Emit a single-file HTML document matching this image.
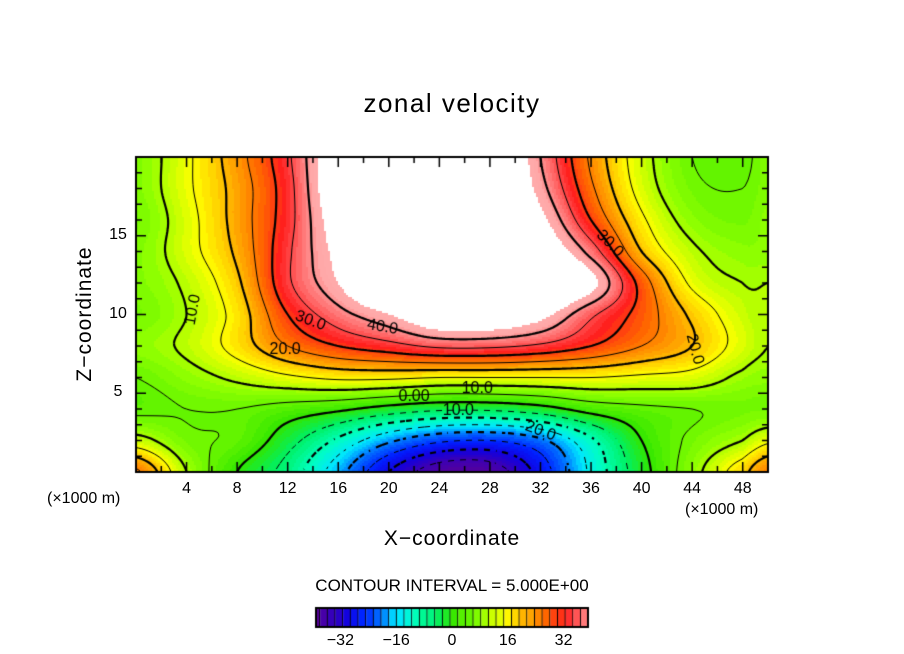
<!DOCTYPE html>
<html><head><meta charset="utf-8"><style>
body{margin:0;background:#fff;width:904px;height:654px;overflow:hidden;position:relative;font-family:"Liberation Sans",sans-serif}
.t{position:absolute;color:#000;white-space:nowrap}
canvas{position:absolute}
</style></head><body>
<div class="t" style="left:0;width:904px;text-align:center;top:88px;font-size:26px;letter-spacing:1.5px">zonal velocity</div>
<canvas id="c" width="904" height="654" style="left:0;top:0"></canvas>
<div id="lab"></div>
<div class="t" style="left:0;width:904px;text-align:center;top:527px;font-size:21px;letter-spacing:1px">X−coordinate</div>
<div class="t" style="top:302px;font-size:21px;letter-spacing:1px;transform:rotate(-90deg);width:200px;text-align:center;transform-origin:100px 12px;left:-15px">Z−coordinate</div>
<div class="t" style="left:47px;top:490px;font-size:16px">(×1000 m)</div>
<div class="t" style="left:685px;top:501px;font-size:16px">(×1000 m)</div>
<div class="t" style="left:0;width:904px;text-align:center;top:576px;font-size:17px">CONTOUR INTERVAL = 5.000E+00</div>
<script>
const xs=[0,4,8,12,16,20,24,28,32,36,40,44,48,50];
const zs=[20,18,16,14,12,10,8,6,4,2,0];
const r20=[7,14,23,34,50,55,55,55,40,24,12,5,4,7];
const r18=[7,14,22,33,50,55,55,55,42,26,13,6,5,7];
const r16=[6,13,22,33,48,55,55,55,46,30,16,8,6,8];
const r14=[7,13,21,34,46,55,55,55,50,38,20,11,8,8];
const r12=[7,11,19,34,44,55,55,55,54,46,28,14,10,10];
const r10=[6,10,17,30,38,44,50,50,46,36,28,19,12,10];
const r8=[8,11,17,25,30,33,36,36,34,30,25,20,13,10];
const r6=[5,8,11,14,16,16,15,15,15,15,14,13,9,8];
const r4=[4,5,5,3,1,-2,-4,-4,-2,2,4,5,6,6];
const r2=[12,6,4,-3,-11,-19,-24,-25,-21,-11,0,6,10,14];
const r0=[26,10,0,-7,-18,-30,-38,-38,-28,-14,-2,8,18,25];
const rows=[r20,r18,r16,r14,r12,r10,r8,r6,r4,r2,r0];
const xTicks=[4,8,12,16,20,24,28,32,36,40,44,48];
const zTicks=[5,10,15];
const cbTicks=[-32,-16,0,16,32];
const X0=136,X1=768,Y0=157,Y1=472,XMAX=50,ZMAX=20;
const sx=x=>X0+x/XMAX*(X1-X0), sz=z=>Y1-z/ZMAX*(Y1-Y0);
function cr(p0,p1,p2,p3,t){return p1+0.5*t*(p2-p0+t*(2*p0-5*p1+4*p2-p3+t*(3*(p1-p2)+p3-p0)));}
function rowAt(r,x){
  let i=0;while(i<xs.length-2&&x>xs[i+1])i++;
  const t=(x-xs[i])/(xs[i+1]-xs[i]);
  const p0=r[Math.max(0,i-1)],p1=r[i],p2=r[i+1],p3=r[Math.min(r.length-1,i+2)];
  return cr(p0,p1,p2,p3,t);
}
function field(x,z){
  let j=0;while(j<zs.length-2&&z<zs[j+1])j++;
  const t=(zs[j]-z)/(zs[j]-zs[j+1]);
  const f=k=>rowAt(rows[Math.max(0,Math.min(rows.length-1,k))],x);
  return cr(f(j-1),f(j),f(j+1),f(j+2),t);
}
const stops=[[-40,[90,0,150]],[-35,[60,0,180]],[-31,[20,0,220]],[-26,[0,30,255]],[-20,[0,130,255]],[-16,[0,230,255]],[-11,[0,255,190]],[-5,[0,240,100]],[0,[50,230,0]],[8,[140,255,0]],[15,[255,255,0]],[21,[255,175,0]],[27,[255,100,0]],[32,[255,30,30]],[38,[255,120,120]],[42,[255,170,170]]];
function col(v){
  if(v>44)return null;
  v=Math.floor(v/1.25)*1.25+0.6;
  if(v<=stops[0][0])return stops[0][1];
  for(let k=0;k<stops.length-1;k++){const[a,ca]=stops[k],[b,cb]=stops[k+1];
    if(v<=b){const t=(v-a)/(b-a);return ca.map((q,m)=>Math.round(q+(cb[m]-q)*t));}}
  return stops[stops.length-1][1];
}
const cv=document.getElementById('c'),g=cv.getContext('2d');
const W=X1-X0,H=Y1-Y0,S=2;
for(let py=0;py<H;py+=S)for(let px=0;px<W;px+=S){
  const v=field((px+1)/W*XMAX,ZMAX-(py+1)/H*ZMAX);const c=col(v);
  if(c){g.fillStyle=`rgb(${c[0]},${c[1]},${c[2]})`;g.fillRect(X0+px,Y0+py,S,S);}
}
const N=3,nx=Math.ceil(W/N),ny=Math.ceil(H/N);
const grid=[];for(let j=0;j<=ny;j++){grid.push([]);for(let i=0;i<=nx;i++)grid[j].push(field(Math.min(i*N,W)/W*XMAX,ZMAX-Math.min(j*N,H)/H*ZMAX));}
for(let L=-35;L<=40;L+=5){
  g.beginPath();g.lineWidth=(L%10===0)?2.2:1;g.strokeStyle='#000';
  for(let j=0;j<ny;j++)for(let i=0;i<nx;i++){
    if(L<0&&((Math.floor(i/2)+Math.floor(j/2))%2===1))continue;
    const v=[grid[j][i],grid[j][i+1],grid[j+1][i+1],grid[j+1][i]];
    const p=[[i,j],[i+1,j],[i+1,j+1],[i,j+1]];const pts=[];
    for(let e=0;e<4;e++){const a=v[e],b=v[(e+1)%4];
      if((a<L)!==(b<L)){const t=(L-a)/(b-a),A=p[e],B=p[(e+1)%4];
        pts.push([X0+(A[0]+(B[0]-A[0])*t)*N,Y0+(A[1]+(B[1]-A[1])*t)*N]);}}
    for(let k=0;k+1<pts.length;k+=2){g.moveTo(pts[k][0],pts[k][1]);g.lineTo(pts[k+1][0],pts[k+1][1]);}
  }
  g.stroke();
}
g.fillStyle='#fff';g.fillRect(0,Y0-20,X0-1,H+40);g.fillRect(X1+1,Y0-20,100,H+40);
g.lineWidth=2;g.strokeStyle='#000';g.strokeRect(X0,Y0,W,H);
g.lineWidth=1.5;g.beginPath();
for(let x=2;x<XMAX;x+=2){const L=(x%4===0)?10:6;g.moveTo(sx(x),Y0);g.lineTo(sx(x),Y0+L);g.moveTo(sx(x),Y1);g.lineTo(sx(x),Y1-L);}
for(let z=1;z<ZMAX;z++){const L=(z%5===0)?10:6;g.moveTo(X0,sz(z));g.lineTo(X0+L,sz(z));g.moveTo(X1,sz(z));g.lineTo(X1-L,sz(z));}
g.stroke();
const CB0=316,CB1=588,CBY=608,CBH=19,VMIN=-39,VMAX=39;
const cbx=v=>CB0+(v-VMIN)/(VMAX-VMIN)*(CB1-CB0);
for(let v=-40;v<39.5;v+=2.2){const c=col(Math.min(v+0.7,42));g.fillStyle=`rgb(${c[0]},${c[1]},${c[2]})`;
  const a=Math.max(CB0,cbx(v)),b=Math.min(CB1,cbx(v+2.2));if(b<=a)continue;g.fillRect(a,CBY,b-a,CBH);
  g.fillStyle='#000';g.fillRect(b-1,CBY,1,CBH);}
g.lineWidth=2;g.strokeRect(CB0,CBY,CB1-CB0,CBH);
const lab=document.getElementById('lab');
function T(txt,x,y,name){const d=document.createElement('div');d.className='t';d.textContent=txt;
  d.style.cssText=`left:${x}px;top:${y}px;font-size:16px;transform:translate(-50%,0);`;
  
  
  lab.appendChild(d);}
xTicks.forEach(x=>T(String(x),sx(x),480,'x-tick-label'));
zTicks.forEach(z=>T(String(z),118,sz(z)-10,'y-tick-label'));
cbTicks.forEach(v=>T(v<0?'−'+(-v):String(v),cbx(v),632,'colorbar-tick-label'));
const cl=[["10.0",4.5,10.3,-80],["30.0",13.8,9.6,20],["20.0",11.8,7.8,0],["40.0",19.5,9.2,10],["10.0",27,5.3,0],["0.00",22,4.8,0],["10.0",25.5,3.9,0],["20.0",32,2.6,20],["30.0",37.5,14.5,45],["20.0",44.2,7.8,75]];
cl.forEach(c=>{const x=sx(c[1]),y=sz(c[2]);g.save();g.translate(x,y);g.rotate(c[3]*Math.PI/180);
  g.font='16px "Liberation Sans",sans-serif';g.fillStyle='#000';g.textAlign='center';g.textBaseline='middle';g.fillText(c[0],0,0);g.restore();});
</script>
</body></html>
